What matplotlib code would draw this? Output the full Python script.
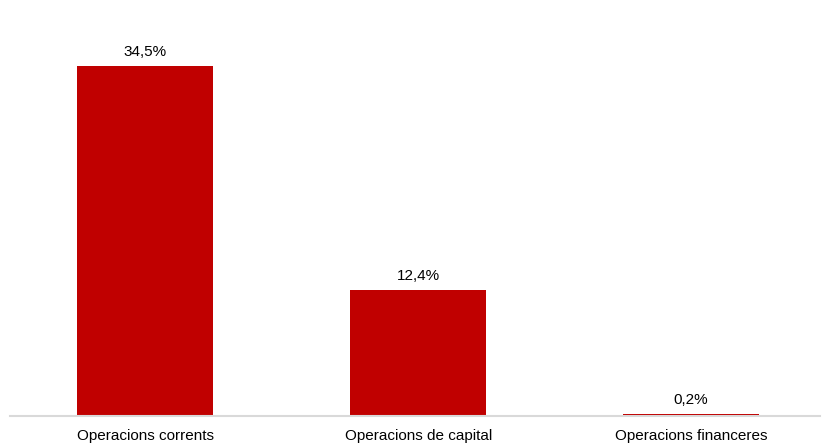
import matplotlib.pyplot as plt

plt.rcParams['font.family'] = ['Liberation Sans', 'DejaVu Sans']

categories = ['Operacions corrents', 'Operacions de capital', 'Operacions financeres']
values = [34.5, 12.4, 0.2]
labels = ['34,5%', '12,4%', '0,2%']

fig = plt.figure(figsize=(8.23, 4.44), dpi=100)
ax = fig.add_axes([10 / 823, 28 / 444, 810 / 823, 416 / 444])

x = range(len(categories))
ax.bar(x, values, width=0.5, color='#C00000', zorder=2)

for xi, v, lab in zip(x, values, labels):
    ax.annotate(lab, (xi, v), xytext=(0, 7.5), textcoords='offset points',
                ha='center', va='baseline', fontsize=11, color='black')

ax.set_xlim(-0.495, 2.472)
ax.set_ylim(0, 41.0)
ax.set_xticks(list(x))
ax.set_xticklabels(categories, fontsize=11)
ax.tick_params(axis='x', length=0, pad=9.5)
ax.set_yticks([])

for s in ['top', 'right', 'left']:
    ax.spines[s].set_visible(False)
ax.spines['bottom'].set_color('#d9d9d9')
ax.spines['bottom'].set_linewidth(1.5)
ax.spines['bottom'].set_zorder(3)

fig.savefig('out.png', dpi=100)
